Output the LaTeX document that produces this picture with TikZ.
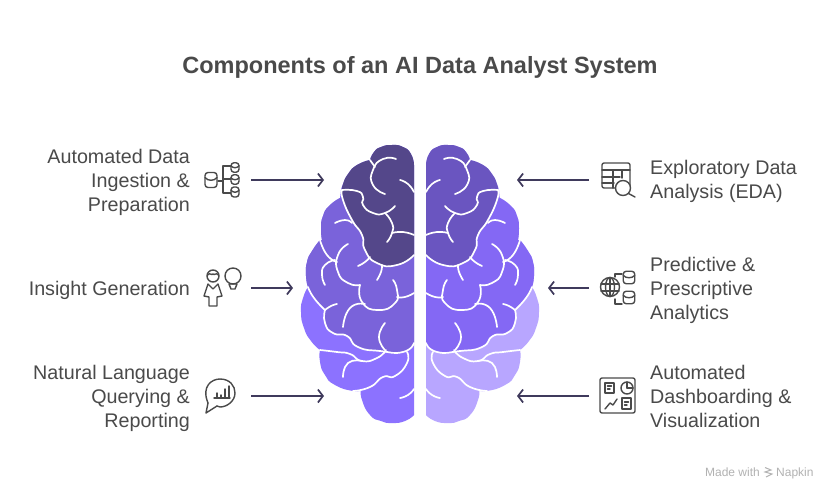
\documentclass[tikz,border=0pt]{standalone}
\usepackage{fontspec}
\setmainfont{Liberation Sans}
\usepackage{xcolor}
\usetikzlibrary{positioning,
				arrows.meta}
\definecolor{inkgray}{HTML}{4A4A4A}
\definecolor{arrowink}{HTML}{3F3A5C}
\definecolor{leftdark}{HTML}{54478A}
\definecolor{leftmid}{HTML}{7A63DA}
\definecolor{leftlow}{HTML}{8C72FF}
\definecolor{rightdark}{HTML}{6A55C0}
\definecolor{rightmid}{HTML}{8468F4}
\definecolor{rightlow}{HTML}{B8A6FF}
\tikzset{
  titletext/.style={text=inkgray,font=\bfseries\fontsize{23.5}{28}\selectfont},
  sidelabel/.style={text=inkgray,font=\fontsize{19.7}{24}\selectfont,inner sep=0pt},
  marktext/.style={text=black!30,font=\fontsize{12}{14}\selectfont,inner sep=0pt},
  flowarrow/.style={draw=arrowink,line width=1.7pt,-{Straight Barb[length=5pt,width=13pt,line width=1.7pt]}},
  crease/.style={draw=white,line width=1.7pt,line cap=round},
  iconline/.style={draw=inkgray,line width=1.4pt,line cap=round,line join=round},
}
% small cylinder: centre x, centre y, width, height
\newcommand{\dbcan}[4]{
  \draw[iconline,rounded corners=3pt] ({#1-#3/2},{#2-#4/2}) rectangle ({#1+#3/2},{#2+#4/2});
  \draw[iconline] ({#1-#3/2},{#2-#4/6}) .. controls ({#1-#3/4},{#2+#4/12}) and ({#1+#3/4},{#2+#4/12}) .. ({#1+#3/2},{#2-#4/6});
}
% one half of the brain, left side coordinates
\newcommand{\brainhalf}[3]{
  \fill[#3] plot[smooth] coordinates {(414,165) (411,154) (403,147) (392,145) (381,147) (374,152) (370,160)}
    -- plot[smooth] coordinates {(370,160) (357,165) (348,174) (343,184) (341,190)}
    -- plot[smooth] coordinates {(340,198) (329,206) (323,216) (321,228) (322,240)}
    -- plot[smooth] coordinates {(320,240) (312,251) (307,262) (306,276) (308,287)}
    -- plot[smooth] coordinates {(308,287) (303,298) (301,312) (304,328) (311,341) (320,350)}
    -- plot[smooth] coordinates {(320,350) (320,362) (325,375) (335,385) (353,391) (361,390)}
    -- plot[smooth] coordinates {(361,390) (362,400) (370,415) (381,421) (392,423) (405,421) (414,415)}
    -- cycle;
  \fill[#2] plot[smooth] coordinates {(340,198) (329,206) (323,216) (321,228) (322,240)}
    -- plot[smooth] coordinates {(320,240) (312,251) (307,262) (306,276) (308,287)}
    -- plot[smooth] coordinates {(308,287) (314,298) (325,310)}
    -- plot[smooth] coordinates {(325,310) (325,323) (333,333) (347,336) (358,347) (380,351) (403,352) (414,343)}
    -- (414,190) -- (350,190) -- cycle;
  \fill[#1] plot[smooth] coordinates {(414,165) (411,154) (403,147) (392,145) (381,147) (374,152) (370,160)}
    -- plot[smooth] coordinates {(370,160) (357,165) (348,174) (343,184) (342,190)}
    -- plot[smooth] coordinates {(342,190) (343,200) (352,220) (362,235) (365,250) (377,263) (397,265) (414,255)}
    -- cycle;
  % creases of the top lobe
  \draw[crease] plot[smooth] coordinates {(370,160) (375,167)};
  \draw[crease] plot[smooth] coordinates {(396,159) (383,159) (373,170) (373,185) (385,194)};
  \draw[crease] plot[smooth] coordinates {(400,180) (408,184) (414,192)};
  \draw[crease] plot[smooth] coordinates {(342,190) (357,191) (363,197) (363,205) (373,213) (385,213) (395,206)};
  \draw[crease] plot[smooth] coordinates {(385,213) (392,223) (392,233) (387,242)};
  \draw[crease] plot[smooth] coordinates {(392,233) (403,232) (414,235)};
  \draw[crease] plot[smooth] coordinates {(342,190) (343,200) (352,220) (362,235) (365,250) (377,263) (397,265) (414,255)};
  % creases of the middle part
  \draw[crease] plot[smooth] coordinates {(335,223) (345,220) (352,223)};
  \draw[crease] plot[smooth] coordinates {(320,240) (327,255) (337,262)};
  \draw[crease] plot[smooth] coordinates {(335,260) (325,265) (322,275) (325,285)};
  \draw[crease] plot[smooth] coordinates {(348,244) (338,255) (338,272) (348,283) (360,285)};
  \draw[crease] plot[smooth] coordinates {(360,285) (362,302) (378,310) (395,303) (397,290) (393,280)};
  \draw[crease] plot[smooth] coordinates {(397,297) (405,297) (414,293)};
  \draw[crease] plot[smooth] coordinates {(370,257) (365,262) (358,266)};
  \draw[crease] plot[smooth] coordinates {(382,265) (381,272) (377,280)};
  \draw[crease] plot[smooth] coordinates {(308,287) (314,298) (325,310)};
  \draw[crease] plot[smooth] coordinates {(337,304) (331,306) (325,310)};
  \draw[crease] plot[smooth] coordinates {(325,310) (325,323) (333,333) (347,336) (358,347) (380,351) (403,352) (414,343)};
  \draw[crease] plot[smooth] coordinates {(365,304) (350,308) (343,327)};
  \draw[crease] plot[smooth] coordinates {(385,323) (379,337) (385,350)};
  % creases of the lower part
  \draw[crease] plot[smooth] coordinates {(320,350) (337,352) (350,354) (362,361) (377,358) (386,350)};
  \draw[crease] plot[smooth] coordinates {(362,361) (348,363) (343,377)};
  \draw[crease] plot[smooth] coordinates {(407,352) (407,363) (395,376) (383,377) (370,387) (353,391)};
  \draw[crease] plot[smooth] coordinates {(400,398) (408,395) (414,389)};
}

\begin{document}
\begin{tikzpicture}[x=1pt,y=-1pt,tension=1]
  \useasboundingbox (0,0) rectangle (828,490);
  \fill[white] (0,0) rectangle (828,490);

  \node[titletext] (title) at (420,67) {Components of an AI Data Analyst System};

  % brain
  \brainhalf{leftdark}{leftmid}{leftlow}
  \begin{scope}[shift={(840,0)},xscale=-1]
    \brainhalf{rightdark}{rightmid}{rightlow}
  \end{scope}

  % labels
  \node[sidelabel,anchor=east,align=right] (ingest) at (190,182) {Automated Data\\Ingestion \&\\Preparation};
  \node[sidelabel,anchor=east,align=right] (insight) at (190,290) {Insight Generation};
  \node[sidelabel,anchor=east,align=right] (querying) at (190,398) {Natural Language\\Querying \&\\Reporting};
  \node[sidelabel,anchor=west,align=left] (eda) at (650,181) {Exploratory Data\\Analysis (EDA)};
  \node[sidelabel,anchor=west,align=left] (predictive) at (650,290) {Predictive \&\\Prescriptive\\Analytics};
  \node[sidelabel,anchor=west,align=left] (dashboard) at (650,396) {Automated\\Dashboarding \&\\Visualization};

  % arrows
  \coordinate (ingestout) at (251,180);
  \coordinate (ingestin) at (324,180);
  \coordinate (insightout) at (251,288);
  \coordinate (insightin) at (293,288);
  \coordinate (queryingout) at (251,396);
  \coordinate (queryingin) at (324,396);
  \coordinate (edaout) at (589,180);
  \coordinate (edain) at (517,180);
  \coordinate (predictiveout) at (589,288);
  \coordinate (predictivein) at (548,288);
  \coordinate (dashboardout) at (589,396);
  \coordinate (dashboardin) at (517,396);
  \draw[flowarrow] (ingestout) -- (ingestin);
  \draw[flowarrow] (insightout) -- (insightin);
  \draw[flowarrow] (queryingout) -- (queryingin);
  \draw[flowarrow] (edaout) -- (edain);
  \draw[flowarrow] (predictiveout) -- (predictivein);
  \draw[flowarrow] (dashboardout) -- (dashboardin);

  % icon: ingestion
  \dbcan{211}{180}{12}{15}
  \dbcan{235}{167.5}{8}{9.5}
  \dbcan{235}{179.5}{8}{9.5}
  \dbcan{235}{192}{8}{10}
  \draw[iconline] (218,181) -- (223,181);
  \draw[iconline] (231,166) -- (223,166) -- (223,193) -- (231,193);
  \draw[iconline] (223,179) -- (231,179);

  % icon: insight
  \draw[iconline] (213,276) circle (6);
  \draw[iconline] (207.5,275) .. controls (210,272) and (212,276) .. (213,274) .. controls (214,276) and (216,272) .. (218.5,275);
  \draw[iconline] (208,284) -- (204,296) -- (209,297) -- (209,306) -- (217,306) -- (217,297) -- (222,296) -- (218,284) -- (213,289) -- cycle;
  \draw[iconline] (233,276) circle (8);
  \draw[iconline] (229,284) -- (237,284) -- (235,289) -- (231,289) -- cycle;

  % icon: querying
  \draw[iconline] (208,403) -- (206,413) -- (217,406);
  \draw[iconline] (208,403) .. controls (201,386) and (212,379) .. (220,379) .. controls (230,379) and (235,386) .. (235,393) .. controls (235,401) and (227,407) .. (220,407) .. controls (219,407) and (218,407) .. (217,406);
  \draw[iconline] (214,398) -- (230,398);
  \draw[iconline] (217,398) -- (217,393);
  \draw[iconline] (221,398) -- (221,395);
  \draw[iconline] (225,398) -- (225,389);
  \draw[iconline] (229,398) -- (229,386);

  % icon: exploratory analysis
  \draw[iconline,rounded corners=2pt] (602,163) rectangle (630,188);
  \draw[iconline] (602,170) -- (630,170);
  \draw[iconline] (602,177) -- (620,177);
  \draw[iconline] (602,183) -- (614,183);
  \draw[iconline] (613,170) -- (613,188);
  \draw[iconline] (622,170) -- (622,178);
  \filldraw[iconline,fill=white] (623,188) circle (7.5);
  \draw[iconline] (628.5,193.5) -- (635,197);

  % icon: predictive
  \draw[iconline] (610,287) circle (9.5);
  \draw[iconline] (610,287) ellipse (4.5 and 9.5);
  \draw[iconline] (601,284) -- (619,284);
  \draw[iconline] (601,291) -- (619,291);
  \draw[iconline] (610,277.5) -- (610,296.5);
  \draw[iconline] (622,274) -- (615,274) -- (615,277);
  \draw[iconline] (615,299) -- (615,304) -- (622,304);
  \dbcan{629}{277.5}{11.5}{12.5}
  \dbcan{629}{297.5}{11.5}{12.5}

  % icon: dashboard
  \draw[iconline,rounded corners=2pt] (600,378) rectangle (635,413);
  \draw[iconline] (605,383) rectangle (614,393);
  \draw[iconline] (607.5,386) -- (611.5,386);
  \draw[iconline] (607.5,389) -- (610,389);
  \draw[iconline] (627,388) circle (6);
  \draw[iconline] (627,388) -- (627,382);
  \draw[iconline] (627,388) -- (633,388);
  \draw[iconline] (605,409) -- (610,403) -- (613,405) -- (617,399);
  \draw[iconline] (622,398) rectangle (631,409);
  \draw[iconline] (624.5,402) -- (628.5,402);
  \draw[iconline] (624.5,405) -- (627,405);

  % watermark
  \node[marktext,anchor=base east] (madewith) at (760,476.5) {Made with};
  \node[marktext,anchor=base west] (napkin) at (776,476.5) {Napkin};
  \draw[black!30,line width=1pt] (765,467.5) -- (771,470) -- (765,472) -- (772,474) -- (766,477);
\end{tikzpicture}
\end{document}
